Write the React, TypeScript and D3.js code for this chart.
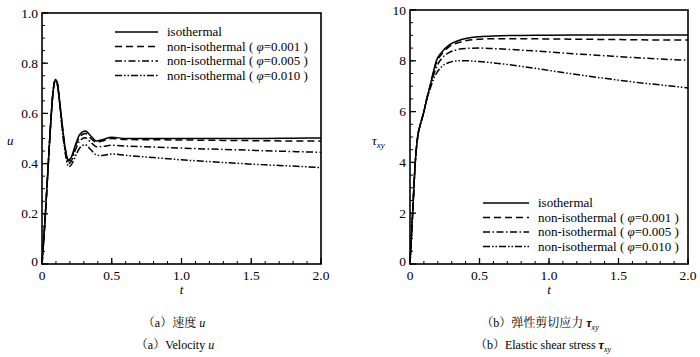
import React from "react";
import * as d3 from "d3";

// ---------- Data ----------
const tU = [0, 0.02, 0.04, 0.06, 0.08, 0.095, 0.11, 0.13, 0.15, 0.17, 0.19, 0.21, 0.24, 0.27, 0.31, 0.35, 0.39, 0.43, 0.5, 0.6, 0.8, 1.0, 1.2, 1.4, 1.6, 1.8, 2.0];
const uIso = [0, 0.16, 0.35, 0.54, 0.69, 0.735, 0.72, 0.63, 0.53, 0.45, 0.415, 0.425, 0.475, 0.515, 0.53, 0.51, 0.49, 0.495, 0.505, 0.5, 0.5, 0.5, 0.5, 0.5, 0.5, 0.501, 0.502];
const u001 = [0, 0.16, 0.35, 0.54, 0.69, 0.735, 0.72, 0.63, 0.53, 0.45, 0.41, 0.42, 0.47, 0.505, 0.52, 0.5, 0.485, 0.49, 0.5, 0.496, 0.495, 0.494, 0.493, 0.492, 0.491, 0.49, 0.49];
const u005 = [0, 0.16, 0.35, 0.54, 0.69, 0.733, 0.716, 0.625, 0.52, 0.44, 0.4, 0.41, 0.455, 0.49, 0.503, 0.485, 0.467, 0.468, 0.473, 0.47, 0.466, 0.462, 0.458, 0.455, 0.451, 0.448, 0.445];
const u010 = [0, 0.16, 0.35, 0.54, 0.69, 0.73, 0.712, 0.62, 0.51, 0.43, 0.388, 0.395, 0.43, 0.462, 0.475, 0.455, 0.435, 0.432, 0.438, 0.433, 0.424, 0.415, 0.408, 0.401, 0.395, 0.39, 0.384];

const tTau = [0, 0.019, 0.038, 0.055, 0.072, 0.085, 0.1, 0.12, 0.144, 0.165, 0.19, 0.23, 0.28, 0.35, 0.41, 0.5, 0.6, 0.8, 1.0, 1.2, 1.4, 1.6, 1.8, 2.0];
const tauIso = [0, 2.0, 4.0, 5.0, 5.45, 5.7, 6.0, 6.5, 7.0, 7.5, 8.0, 8.35, 8.62, 8.8, 8.89, 8.95, 8.98, 9.0, 9.01, 9.02, 9.02, 9.02, 9.02, 9.02];
const tau001 = [0, 2.0, 4.0, 5.0, 5.45, 5.7, 6.0, 6.5, 7.0, 7.45, 7.92, 8.28, 8.55, 8.72, 8.8, 8.85, 8.87, 8.87, 8.86, 8.85, 8.84, 8.83, 8.82, 8.82];
const tau005 = [0, 2.0, 4.0, 5.0, 5.45, 5.7, 6.0, 6.48, 6.95, 7.35, 7.75, 8.1, 8.32, 8.45, 8.49, 8.5, 8.48, 8.42, 8.35, 8.27, 8.2, 8.13, 8.07, 8.02];
const tau010 = [0, 2.0, 4.0, 5.0, 5.45, 5.7, 6.0, 6.45, 6.88, 7.22, 7.5, 7.78, 7.93, 8.0, 8.0, 7.97, 7.92, 7.78, 7.62, 7.46, 7.31, 7.17, 7.05, 6.93];

const legendNames = ["isothermal", "non-isothermal", "non-isothermal", "non-isothermal"];
const legendPhi = ["", "0.001", "0.005", "0.010"];
const xTicks = [0, 0.5, 1.0, 1.5, 2.0];
const uTicks = [0, 0.2, 0.4, 0.6, 0.8, 1.0];
const tauTicks = [0, 2, 4, 6, 8, 10];

const dashes = [null, "7,4", "7,2.5,1.5,2.5", "7,2,1.5,2,1.5,2"];
const SERIF = "'Liberation Serif', 'Times New Roman', Tinos, 'Noto Serif', 'DejaVu Serif', 'Liberation Sans Narrow', 'Liberation Sans', sans-serif";
const CJK = "'Liberation Serif', 'Times New Roman', 'Noto Serif CJK SC', 'Noto Sans CJK SC', 'Liberation Sans', sans-serif";

const serif = (size: number, extra: React.CSSProperties = {}): React.CSSProperties => ({ fontFamily: SERIF, fontSize: size, ...extra });

type PanelProps = {
  left: number; right: number; top: number; bottom: number;
  yMax: number; yTicks: number[]; yMinorStep: number; yFmt: (v: number) => string;
  t: number[]; series: number[][];
  legendX: number; legendY: number; legendLen: number;
};

function Panel(p: PanelProps) {
  const x = d3.scaleLinear().domain([0, 2]).range([p.left, p.right]);
  const y = d3.scaleLinear().domain([0, p.yMax]).range([p.bottom, p.top]);
  const line = d3.line<[number, number]>().x(d => x(d[0])).y(d => y(d[1])).curve(d3.curveMonotoneX);
  const xMinor = d3.range(0, 2.0001, 0.1);
  const yMinor = d3.range(0, p.yMax + 1e-6, p.yMinorStep);
  return (
    <g>
      {series(p, line)}
      {xMinor.map((v, i) => (
        <line key={"xm" + i} x1={x(v)} x2={x(v)} y1={p.bottom} y2={p.bottom - 3} stroke="#000" strokeWidth={1} />
      ))}
      {xTicks.map((v, i) => (
        <line key={"xM" + i} x1={x(v)} x2={x(v)} y1={p.bottom} y2={p.bottom - 6} stroke="#000" strokeWidth={1.3} />
      ))}
      {yMinor.map((v, i) => (
        <line key={"ym" + i} x1={p.left} x2={p.left + 3} y1={y(v)} y2={y(v)} stroke="#000" strokeWidth={1} />
      ))}
      {p.yTicks.map((v, i) => (
        <line key={"yM" + i} x1={p.left} x2={p.left + 6} y1={y(v)} y2={y(v)} stroke="#000" strokeWidth={1.3} />
      ))}
      <rect x={p.left} y={p.top} width={p.right - p.left} height={p.bottom - p.top} fill="none" stroke="#000" strokeWidth={1.6} />
      {xTicks.map((v, i) => (
        <text key={"xl" + i} x={x(v)} y={p.bottom + 16} textAnchor="middle" style={serif(13.5)}>
          {v === 0 ? "0" : v.toFixed(1)}
        </text>
      ))}
      {p.yTicks.map((v, i) => (
        <text key={"yl" + i} x={p.left - 4} y={y(v) + (v === 0 ? 2 : 4.5)} textAnchor="end" style={serif(13.5)}>
          {p.yFmt(v)}
        </text>
      ))}
      <text x={(p.left + p.right) / 2} y={p.bottom + 30} textAnchor="middle" style={serif(13, { fontStyle: "italic" })}>t</text>
      {legendNames.map((name, i) => {
        const ly = p.legendY + i * 14.5;
        return (
          <g key={"lg" + i}>
            <line x1={p.legendX} x2={p.legendX + p.legendLen} y1={ly} y2={ly} stroke="#000" strokeWidth={1.5}
              strokeDasharray={dashes[i] || undefined} />
            <text x={p.legendX + p.legendLen + 9} y={ly + 4} style={serif(13)}>
              {name}
              {legendPhi[i] ? (
                <>
                  {" ( "}
                  <tspan style={{ fontStyle: "italic" }}>φ</tspan>
                  {"=" + legendPhi[i] + " )"}
                </>
              ) : null}
            </text>
          </g>
        );
      })}
    </g>
  );
}

function series(p: PanelProps, line: d3.Line<[number, number]>) {
  return p.series.map((vals, i) => {
    const pts = p.t.map((tv, j) => [tv, vals[j]] as [number, number]);
    return (
      <path key={"s" + i} d={line(pts) || ""} fill="none" stroke="#000" strokeWidth={1.5}
        strokeDasharray={dashes[i] || undefined} />
    );
  });
}

export default function App() {
  const cap: React.CSSProperties = { fontFamily: CJK, fontSize: 12 };
  return (
    <svg width={700} height={357} style={{ position: "absolute", left: 0, top: 0, background: "#fff" }}>
      <Panel left={42} right={321} top={13} bottom={264} yMax={1.0} yTicks={uTicks} yMinorStep={0.05}
        yFmt={v => (v === 0 ? "0" : v.toFixed(1))} t={tU} series={[uIso, u001, u005, u010]}
        legendX={115} legendY={32} legendLen={43} />
      <Panel left={410} right={688} top={10} bottom={264} yMax={10} yTicks={tauTicks} yMinorStep={0.5}
        yFmt={v => String(v)} t={tTau} series={[tauIso, tau001, tau005, tau010]}
        legendX={483} legendY={203} legendLen={46} />
      <text x={7} y={145} style={serif(13, { fontStyle: "italic" })}>u</text>
      <text x={372} y={145} style={serif(13, { fontStyle: "italic" })}>
        τ<tspan style={{ fontSize: 9 }} dy={3}>xy</tspan>
      </text>
      <text x={174} y={327} textAnchor="middle" style={cap}>
        （a）速度 <tspan style={{ fontStyle: "italic" }}>u</tspan>
      </text>
      <text x={175} y={349} textAnchor="middle" style={cap}>
        （a）Velocity <tspan style={{ fontStyle: "italic" }}>u</tspan>
      </text>
      <text x={540} y={327} textAnchor="middle" style={cap}>
        （b）弹性剪切应力 <tspan style={{ fontStyle: "italic", fontWeight: "bold" }}>τ</tspan><tspan style={{ fontSize: 8, fontStyle: "italic" }} dy={3}>xy</tspan>
      </text>
      <text x={543} y={349} textAnchor="middle" style={cap}>
        （b）Elastic shear stress <tspan style={{ fontStyle: "italic", fontWeight: "bold" }}>τ</tspan><tspan style={{ fontSize: 8, fontStyle: "italic" }} dy={3}>xy</tspan>
      </text>
    </svg>
  );
}
